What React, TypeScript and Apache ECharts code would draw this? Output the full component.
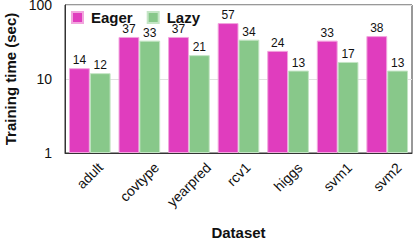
import React, { useEffect, useRef } from "react";
import * as echarts from "echarts";

const categories = ["adult", "covtype", "yearpred", "rcv1", "higgs", "svm1", "svm2"];
const eagerValues = [14, 37, 37, 57, 24, 33, 38];
const lazyValues = [12, 33, 21, 34, 13, 17, 13];
const seriesNames = ["Eager", "Lazy"];

const FONT = "'Liberation Sans', Arial, sans-serif";

export default function App() {
  const ref = useRef<HTMLDivElement>(null);
  useEffect(() => {
    if (!ref.current) return;
    const chart = echarts.init(ref.current, undefined, { renderer: "svg" });
    const canvas = document.createElement("canvas");
    const ctx = canvas.getContext("2d")!;
    ctx.font = "14px " + FONT;
    const rich: Record<string, any> = {};
    categories.forEach((c, i) => {
      const w = ctx.measureText(c).width;
      const p = Math.round(w / 2);
      rich["l" + i] = { fontSize: 14, fontFamily: FONT, color: "#111", padding: [p, p, 0, 0] };
    });
    chart.setOption({
      animation: false,
      textStyle: { fontFamily: FONT },
      grid: {
        left: 65, right: 4, top: 5, bottom: 89,
        containLabel: false,
        outerBoundsMode: "none",
        show: true, borderColor: "#333", borderWidth: 1, backgroundColor: "transparent",
      },
      legend: {
        left: 66, top: 5,
        itemWidth: 11, itemHeight: 11, itemGap: 14,
        icon: "rect",
        data: seriesNames,
        textStyle: {
          fontSize: 15, fontWeight: "bold", color: "#111", fontFamily: FONT,
          lineHeight: 13, padding: [0, 0, 0, 3],
        },
      },
      xAxis: {
        type: "category",
        data: categories,
        name: "Dataset",
        nameLocation: "middle",
        nameGap: 72,
        nameTextStyle: { fontSize: 15, fontWeight: "bold", color: "#111", fontFamily: FONT },
        axisLine: { lineStyle: { color: "#333" } },
        axisTick: { show: false },
        axisLabel: {
          interval: 0,
          rotate: 45,
          margin: 12,
          align: "center",
          verticalAlign: "middle",
          formatter: (v: string) => `{l${categories.indexOf(v)}|${v}}`,
          rich,
        },
      },
      yAxis: {
        type: "log",
        logBase: 10,
        min: 1,
        max: 100,
        name: "Training time (sec)",
        nameLocation: "middle",
        nameGap: 47,
        nameTextStyle: { fontSize: 15, fontWeight: "bold", color: "#111", fontFamily: FONT },
        axisLine: { show: true, lineStyle: { color: "#333" } },
        axisTick: { show: false },
        axisLabel: { fontSize: 14, color: "#111", margin: 13, fontFamily: FONT },
        splitLine: { show: true, lineStyle: { color: "#e0e0e0", width: 1 } },
      },
      series: [
        {
          name: seriesNames[0],
          type: "bar",
          data: eagerValues,
          barGap: "0%",
          barCategoryGap: "16%",
          itemStyle: { color: "#E03DBE", borderColor: "#F2A5DE", borderWidth: 1 },
          label: { show: true, position: "top", distance: 2, fontSize: 12, lineHeight: 12, color: "#111", fontFamily: FONT },
        },
        {
          name: seriesNames[1],
          type: "bar",
          data: lazyValues,
          barGap: "0%",
          barCategoryGap: "16%",
          itemStyle: { color: "#88C88A", borderColor: "#C4E5C5", borderWidth: 1 },
          label: { show: true, position: "top", distance: 2, fontSize: 12, lineHeight: 12, color: "#111", fontFamily: FONT },
        },
      ],
    });
    return () => chart.dispose();
  }, []);
  return (
    <div
      ref={ref}
      style={{ position: "absolute", left: 0, top: 0, width: 416, height: 242, background: "#fff" }}
    />
  );
}
